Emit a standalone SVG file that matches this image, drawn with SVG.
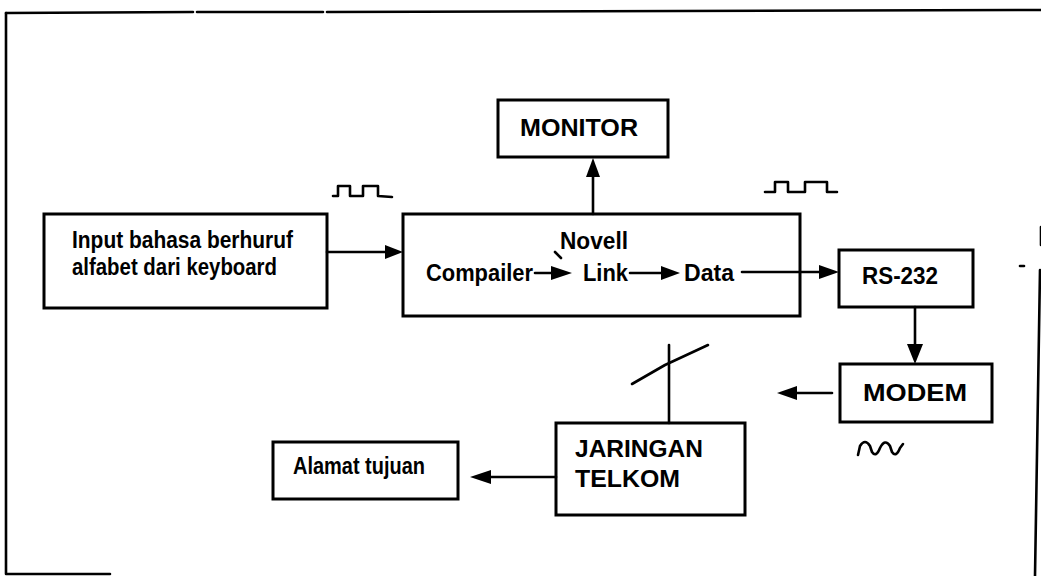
<svg xmlns="http://www.w3.org/2000/svg" width="1041" height="576" viewBox="0 0 1041 576">
<style>
.box{fill:#fff;stroke:#000;stroke-width:3}
.ln{fill:none;stroke:#000;stroke-width:2.6;stroke-linecap:round;stroke-linejoin:round}
.t{font-family:"Liberation Sans",Arial,sans-serif;font-weight:bold;font-size:23px;fill:#000}
.ah{fill:#000}
</style>
<rect width="1041" height="576" fill="#fff"/>
<g id="frame" class="ln" stroke-width="3">
<path d="M6,13 L193,12 M197,12 L323,12 M327,12 L1041,10"/>
<path d="M6,13 L6,574 L110,574"/>
<path d="M1041,227 L1041,245"/>
<path d="M1040,270 L1035,576"/>
<path d="M1020,266 L1024,266"/>
</g>
<g id="signals" class="ln" stroke-width="3.2">
<path d="M333,196 L338,196 L338,186 L350,186 L350,196 L363,196 L363,186 L378,186 L378,196 L392,197"/>
<path d="M765,192 L775,192 L775,182 L788,182 L788,192 L805,192 L805,182 L827,182 L827,192 L837,192"/>
<path d="M858,455 L860,446 Q865,438 870,446 L872,452 Q876,458 880,448 Q885,438 890,446 L892,452 Q896,458 900,448 L903,444"/>
</g>
<g id="input">
<rect class="box" x="44" y="214" width="283" height="94"/>
<text class="t" x="72" y="248" textLength="221" lengthAdjust="spacingAndGlyphs">Input bahasa berhuruf</text>
<text class="t" x="72" y="275" textLength="205" lengthAdjust="spacingAndGlyphs">alfabet dari keyboard</text>
</g>
<g id="monitor">
<rect class="box" x="498" y="100" width="170" height="57"/>
<text class="t" x="520" y="136" textLength="118" lengthAdjust="spacingAndGlyphs">MONITOR</text>
</g>
<g id="novell">
<rect class="box" x="403" y="214" width="397" height="102"/>
<text class="t" x="560" y="249" textLength="68" lengthAdjust="spacingAndGlyphs">Novell</text>
<text class="t" x="426" y="281" textLength="107" lengthAdjust="spacingAndGlyphs">Compailer</text>
<text class="t" x="583" y="281" textLength="45" lengthAdjust="spacingAndGlyphs">Link</text>
<text class="t" x="684" y="281" textLength="50" lengthAdjust="spacingAndGlyphs">Data</text>
</g>
<g id="rs232">
<rect class="box" x="839" y="250" width="134" height="57"/>
<text class="t" x="862" y="284" textLength="76" lengthAdjust="spacingAndGlyphs">RS-232</text>
</g>
<g id="modem">
<rect class="box" x="840" y="364" width="152" height="58"/>
<text class="t" x="863" y="401" textLength="104" lengthAdjust="spacingAndGlyphs">MODEM</text>
</g>
<g id="jaringan">
<rect class="box" x="556" y="423" width="189" height="92"/>
<text class="t" x="575" y="457" textLength="128" lengthAdjust="spacingAndGlyphs">JARINGAN</text>
<text class="t" x="575" y="487" textLength="105" lengthAdjust="spacingAndGlyphs">TELKOM</text>
</g>
<g id="alamat">
<rect class="box" x="273" y="442" width="185" height="57"/>
<text class="t" x="293" y="474" font-size="21" textLength="132" lengthAdjust="spacingAndGlyphs">Alamat tujuan</text>
</g>
<g id="connectors">
<path class="ln" d="M327,252 L388,252"/>
<polygon class="ah" points="403,252 385,245 385,259"/>
<path class="ln" d="M593,214 L593,175"/>
<polygon class="ah" points="593,158 586,177 600,177"/>
<path class="ln" d="M535,273 L553,273"/>
<polygon class="ah" points="572,273 551,266 551,280"/>
<path class="ln" d="M555,252 L561,258"/>
<path class="ln" d="M630,273 L664,273"/>
<polygon class="ah" points="680,273 661,266 661,280"/>
<path class="ln" d="M742,272 L822,272"/>
<polygon class="ah" points="839,272 819,265 819,279"/>
<path class="ln" d="M915,307 L915,348"/>
<polygon class="ah" points="915,364 907,344 923,344"/>
<path class="ln" d="M832,393 L795,393"/>
<polygon class="ah" points="777,393 797,386 797,400"/>
<path class="ln" d="M669,345 L669,423"/>
<path class="ln" d="M632,384 L665,365 L708,345"/>
<path class="ln" d="M556,477 L490,477"/>
<polygon class="ah" points="470,477 491,470 491,484"/>
</g>
</svg>
